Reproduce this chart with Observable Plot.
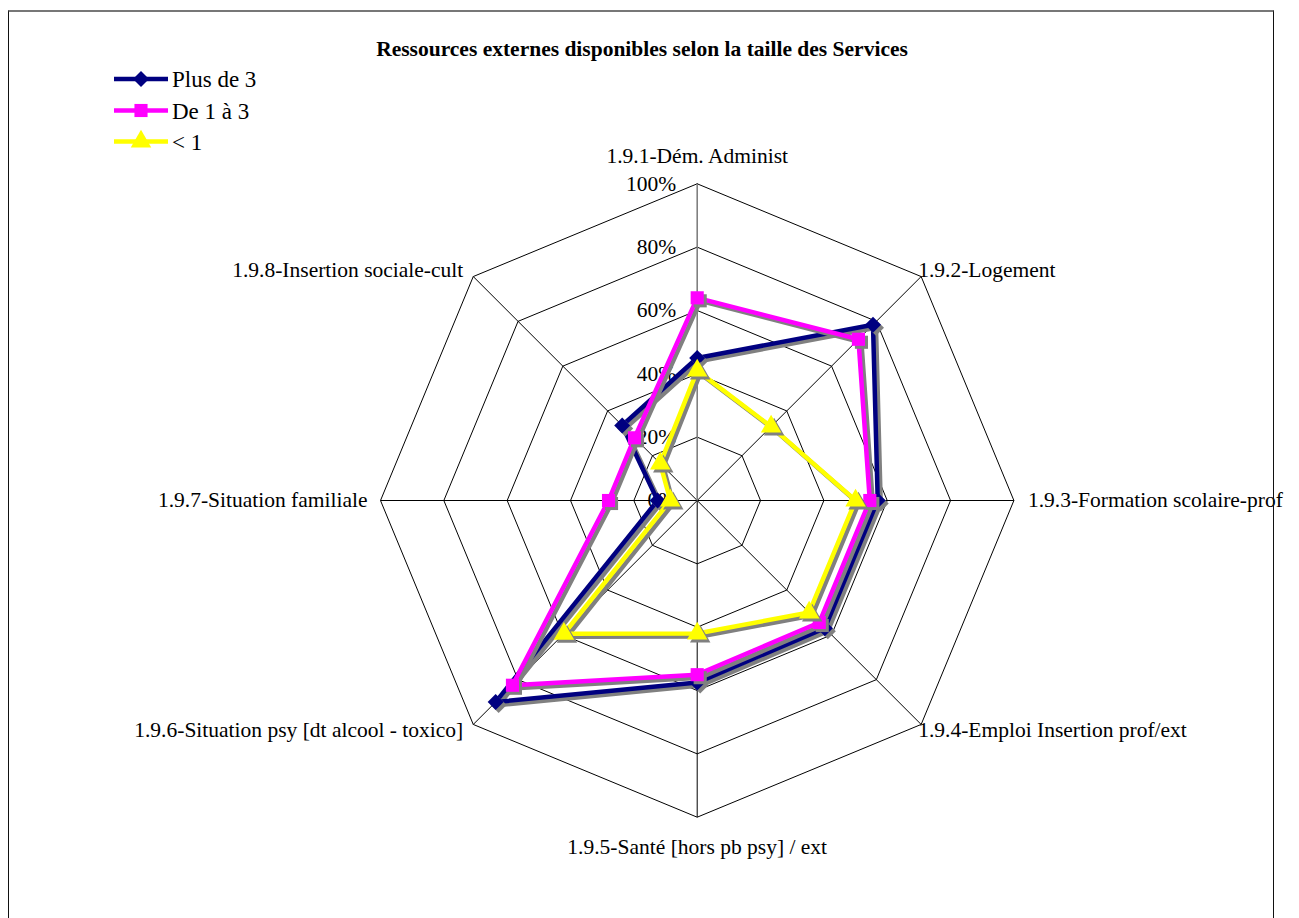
<!DOCTYPE html>
<html>
<head>
<meta charset="utf-8">
<script src="https://cdn.jsdelivr.net/npm/d3@7"></script>
<script src="https://cdn.jsdelivr.net/npm/@observablehq/plot@0.6"></script>
<style>
  html, body { margin: 0; padding: 0; background: #fff; overflow: hidden; width: 1299px; height: 918px; }
  #wrap { position: relative; width: 1299px; height: 918px; font-family: "Liberation Serif", "Times New Roman", serif; }
  #chart { position: absolute; left: 0; top: 0; }
  #frame { position: absolute; left: 8px; top: 10px; width: 1264px; height: 960px; border: 1px solid #111; border-top: 2px solid #777; pointer-events: none; z-index: 5; }
  #title { position: absolute; left: 0; width: 1284px; top: 36px; text-align: center; font-weight: bold; font-size: 21.5px; line-height: 26px; }
  #legend { position: absolute; left: 114px; top: 60px; }
  #legend svg { display: block; overflow: visible; }
</style>
</head>
<body>
<div id="wrap">
  <div id="chart"></div>
  <div id="title"></div>
  <div id="legend"></div>
  <div id="frame"></div>
</div>
<script>
// ---- data ----
const title = "Ressources externes disponibles selon la taille des Services";
const categories = [
  "1.9.1-Dém. Administ",
  "1.9.2-Logement",
  "1.9.3-Formation scolaire-prof",
  "1.9.4-Emploi Insertion prof/ext",
  "1.9.5-Santé [hors pb psy] / ext",
  "1.9.6-Situation psy [dt alcool - toxico]",
  "1.9.7-Situation familiale",
  "1.9.8-Insertion sociale-cult"
];
const seriesNames = ["Plus de 3", "De 1 à 3", "< 1"];
const plus3  = [0.45, 0.785, 0.57, 0.57, 0.575, 0.90, 0.125, 0.335];
const de1a3  = [0.64, 0.72, 0.545, 0.545, 0.55, 0.825, 0.28, 0.28];
const moins1 = [0.41, 0.33, 0.50, 0.50, 0.42, 0.595, 0.085, 0.165];
const tickValues = [0, 0.2, 0.4, 0.6, 0.8, 1.0];
const tickLabels = ["0%", "20%", "40%", "60%", "80%", "100%"];

// ---- styles / layout ----
const colors = ["#000080", "#FF00FF", "#FFFF00"];
const symbols = ["diamond2", "square", "triangle"];
const symR = [7.2, 7.4, 7.6];
const shadow = "#808080";
const FONT = "'Liberation Serif', 'Times New Roman', serif";
const W = 1299, H = 918, CX = 696.7, CY = 500, R = 316.7;
// label offsets in px (dx, dy, anchor) per category
const labelLayout = [
  {dx: 0, dy: -28, a: "middle"},
  {dx: -3, dy: -6, a: "start"},
  {dx: 14, dy: 0, a: "start"},
  {dx: -3, dy: 6, a: "start"},
  {dx: 0, dy: 30, a: "middle"},
  {dx: -10, dy: 6, a: "end"},
  {dx: -13, dy: 0, a: "end"},
  {dx: -10, dy: -6, a: "end"}
];

const n = categories.length;
const ang = i => i * 2 * Math.PI / n;
const px = (i, v) => v * Math.sin(ang(i));
const py = (i, v) => v * Math.cos(ang(i));

// grid rings
const rings = [];
tickValues.filter(t => t > 0).forEach(t => {
  for (let i = 0; i <= n; i++) rings.push({ring: t, x: px(i % n, t), y: py(i % n, t)});
});
const spokes = categories.map((c, i) => ({i, x2: px(i, 1), y2: py(i, 1)}));

const allSeries = [plus3, de1a3, moins1];
const seriesMarks = [];
allSeries.forEach((vals, s) => {
  const pts = vals.map((v, i) => ({x: px(i, v), y: py(i, v)}));
  const closed = pts.concat([pts[0]]);
  seriesMarks.push(
    Plot.line(closed, {x: "x", y: "y", stroke: shadow, strokeWidth: 4.5, dx: 3, dy: 3, strokeLinejoin: "round"}),
    Plot.line(closed, {x: "x", y: "y", stroke: colors[s], strokeWidth: 4.5, strokeLinejoin: "round"}),
    Plot.dot(pts, {x: "x", y: "y", symbol: symbols[s], r: symR[s], fill: shadow, dx: 3, dy: 3}),
    Plot.dot(pts, {x: "x", y: "y", symbol: symbols[s], r: symR[s], fill: colors[s]})
  );
});

const labelMarks = categories.map((c, i) => Plot.text([{x: px(i, 1), y: py(i, 1), t: c}], {
  x: "x", y: "y", text: "t", dx: labelLayout[i].dx, dy: labelLayout[i].dy, textAnchor: labelLayout[i].a, fill: "#000"
}));

const tickData = tickValues.map((v, k) => ({x: 0, y: v, t: tickLabels[k]}));

const chart = Plot.plot({
  width: W, height: H, margin: 0,
  x: {domain: [-CX / R, (W - CX) / R], axis: null},
  y: {domain: [-(H - CY) / R, CY / R], axis: null},
  style: {fontFamily: FONT, fontSize: "21.5px", background: "transparent", overflow: "visible"},
  marks: [
    Plot.line(rings, {x: "x", y: "y", z: "ring", stroke: "#000", strokeWidth: 1}),
    Plot.link(spokes.filter(d => d.i !== 0), {x1: 0, y1: 0, x2: "x2", y2: "y2", stroke: "#000", strokeWidth: 1}),
    Plot.link(spokes.filter(d => d.i === 0), {x1: 0, y1: 0, x2: "x2", y2: "y2", stroke: "#808080", strokeWidth: 1.6}),
    Plot.text(tickData, {x: "x", y: "y", text: "t", dx: -21, textAnchor: "end", fill: "#000"}),
    ...labelMarks,
    ...seriesMarks
  ]
});
document.getElementById("chart").appendChild(chart);
document.getElementById("title").textContent = title;

// legend (svg)
const legY = [19, 50.5, 81.5];
const lsvg = d3.create("svg").attr("width", 200).attr("height", 100)
  .attr("font-family", FONT).attr("font-size", 23);
const symMap = {diamond2: d3.symbolDiamond2, square: d3.symbolSquare, triangle: d3.symbolTriangle};
seriesNames.forEach((name, s) => {
  const g = lsvg.append("g").attr("transform", `translate(0,${legY[s]})`);
  g.append("line").attr("x1", 0).attr("x2", 54).attr("y1", 0).attr("y2", 0)
    .attr("stroke", colors[s]).attr("stroke-width", 4.5);
  g.append("path").attr("transform", "translate(27,0)")
    .attr("d", d3.symbol(symMap[symbols[s]], Math.PI * symR[s] * symR[s])()).attr("fill", colors[s]);
  g.append("text").attr("x", 58).attr("y", 0).attr("dy", "0.35em").attr("fill", "#000").text(name);
});
document.getElementById("legend").appendChild(lsvg.node());
</script>
</body>
</html>
